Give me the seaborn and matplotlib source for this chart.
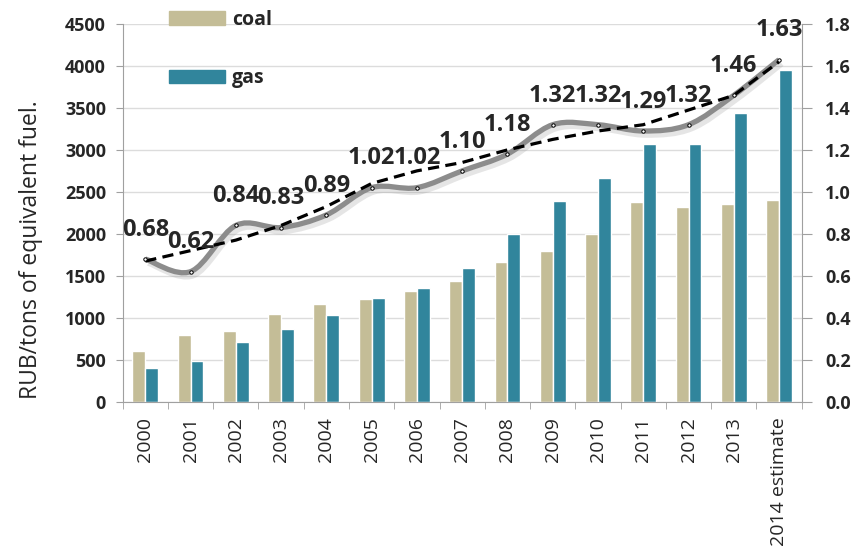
import matplotlib.pyplot as plt
import matplotlib.patheffects as pe
import numpy as np
import pandas as pd
import seaborn as sns
from matplotlib.patches import Patch, PathPatch
from matplotlib.path import Path
from matplotlib.ticker import FormatStrFormatter, MultipleLocator

years = ["2000", "2001", "2002", "2003", "2004", "2005", "2006", "2007",
         "2008", "2009", "2010", "2011", "2012", "2013", "2014 estimate"]
coal = [600, 800, 840, 1050, 1160, 1220, 1320, 1440, 1670, 1790, 2000, 2380, 2320, 2350, 2400]
gas = [400, 490, 710, 870, 1030, 1240, 1350, 1590, 2000, 2390, 2660, 3070, 3070, 3440, 3950]
ratio = [0.68, 0.62, 0.84, 0.83, 0.89, 1.02, 1.02, 1.10, 1.18, 1.32, 1.32, 1.29, 1.32, 1.46, 1.63]
trend = [0.67, 0.72, 0.77, 0.84, 0.93, 1.04, 1.10, 1.14, 1.20, 1.25, 1.29, 1.32, 1.39, 1.46, 1.62]

COAL_COLOR = "#C4BD97"
GAS_COLOR = "#31859C"
AXIS_GRAY = "#A0A0A0"

sns.set_style("white")
plt.rcParams["font.family"] = ["Open Sans", "DejaVu Sans"]

fig = plt.figure(figsize=(8.61, 5.59), dpi=100)
ax = fig.add_axes([0.1425, 0.2814, 0.7886, 0.6757])

df = pd.DataFrame({
    "year": years * 2,
    "fuel": ["coal"] * len(years) + ["gas"] * len(years),
    "value": coal + gas,
})
sns.barplot(data=df, x="year", y="value", hue="fuel",
            palette={"coal": COAL_COLOR, "gas": GAS_COLOR},
            width=0.57, saturation=1, legend=False, ax=ax)

# left axis
ax.set_ylim(0, 4500)
ax.yaxis.set_major_locator(MultipleLocator(500))
ax.yaxis.grid(True, color="#DCDCDC", lw=1)
ax.set_axisbelow(True)
for s in ["top", "right"]:
    ax.spines[s].set_visible(False)
for s in ["left", "bottom"]:
    ax.spines[s].set_color(AXIS_GRAY)
ax.tick_params(axis="y", length=5, color=AXIS_GRAY, pad=7, labelsize=13, left=True)
for lab in ax.get_yticklabels():
    lab.set_fontweight("bold")
ax.set_ylabel("RUB/tons of equivalent fuel.", fontsize=16.5)
ax.yaxis.set_label_coords(-0.118, 0.402)

pos = np.arange(len(years))
ax.set_xticks(pos)
ax.set_xticklabels(years, rotation=90, fontsize=14)
ax.set_xticks(np.arange(-0.5, len(years), 1), minor=True)
ax.tick_params(axis="x", which="major", length=0, pad=11)
ax.tick_params(axis="x", which="minor", length=5, color=AXIS_GRAY, bottom=True)
ax.set_xlabel("")
ax.set_xlim(-0.5, len(years) - 0.5)

# right axis with price ratio
ax2 = ax.twinx()
ax2.set_ylim(0, 1.8)
ax2.yaxis.set_major_locator(MultipleLocator(0.2))
ax2.yaxis.set_major_formatter(FormatStrFormatter("%.1f"))
for s in ["top", "left", "bottom"]:
    ax2.spines[s].set_visible(False)
ax2.spines["right"].set_color(AXIS_GRAY)
ax2.tick_params(axis="y", length=7, color=AXIS_GRAY, pad=10, labelsize=13)
for lab in ax2.get_yticklabels():
    lab.set_fontweight("bold")

# smoothed ratio line (bezier through the points, like excel's smooth line)
pts = np.column_stack([pos, ratio]).astype(float)
n = len(pts)
verts = [tuple(pts[0])]
codes = [Path.MOVETO]
for i in range(n - 1):
    p0 = pts[max(i - 1, 0)]
    p1 = pts[i]
    p2 = pts[i + 1]
    p3 = pts[min(i + 2, n - 1)]
    verts += [tuple(p1 + (p2 - p0) / 6), tuple(p2 - (p3 - p1) / 6), tuple(p2)]
    codes += [Path.CURVE4] * 3
smooth = PathPatch(Path(verts, codes), facecolor="none", edgecolor="#8C8C8C", lw=3.8,
                   transform=ax2.transData, zorder=3,
                   path_effects=[pe.SimpleLineShadow(offset=(2, -3), shadow_color="gray", alpha=0.2),
                                 pe.Normal()])
ax2.add_patch(smooth)

sns.lineplot(x=pos, y=trend, ax=ax2, color="black", lw=2.3,
             linestyle=(0, (3.5, 2)), zorder=4)
sns.scatterplot(x=pos, y=ratio, ax=ax2, s=6, color="white", edgecolor="black",
                linewidth=0.7, zorder=5)

for x, r in zip(pos, ratio):
    ax2.annotate(f"{r:.2f}", (x, r), xytext=(0, 21), textcoords="offset points",
                 ha="center", va="center", fontsize=17, fontweight="bold", zorder=6)

ax2.set_xlim(-0.5, len(years) - 0.5)

handles = [Patch(color=COAL_COLOR), Patch(color=GAS_COLOR)]
fig.legend(handles, ["coal", "gas"], loc="upper left", bbox_to_anchor=(0.196, 0.983),
           frameon=False, handlelength=2.9, handleheight=0.7, labelspacing=2.0,
           handletextpad=0.35, borderpad=0, borderaxespad=0,
           prop={"weight": "bold", "size": 14})

fig.savefig("out.png", dpi=100)
